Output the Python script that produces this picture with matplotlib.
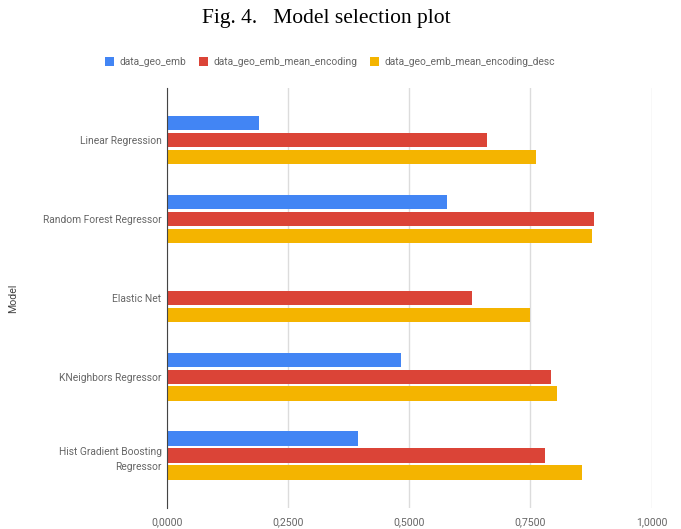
import numpy as np
from matplotlib import pyplot as plt

models = ['Linear Regression', 'Random Forest Regressor', 'Elastic Net',
          'KNeighbors Regressor', 'Hist Gradient Boosting\nRegressor']
geo_emb = [0.190, 0.577, 0.0, 0.483, 0.395]
mean_enc = [0.660, 0.880, 0.630, 0.792, 0.779]
mean_enc_desc = [0.761, 0.876, 0.750, 0.805, 0.856]
series = ['data_geo_emb', 'data_geo_emb_mean_encoding', 'data_geo_emb_mean_encoding_desc']
colors = ['#4285F4', '#DB4437', '#F4B400']
xticks = [0.0, 0.25, 0.5, 0.75, 1.0]

plt.rcParams['font.family'] = ['Roboto', 'DejaVu Sans']

fig = plt.figure(figsize=(6.81, 5.29), dpi=100)
ax = fig.add_axes([0.245, 0.040, 0.712, 0.794])

y = np.arange(len(models))
h = 0.184
step = 0.215
for i, (vals, name, c) in enumerate(zip([geo_emb, mean_enc, mean_enc_desc], series, colors)):
    ax.barh(y + (i - 1) * step, vals, height=h, color=c, label=name, linewidth=0, zorder=3)

ax.set_ylim(len(models) - 1 + 0.66, -0.66)
ax.set_xlim(0, 1.0)
ax.set_yticks(y)
ax.set_yticklabels(models, fontsize=7.4, color='#666666', linespacing=1.7)
ax.set_xticks(xticks)
ax.set_xticklabels(['{:.4f}'.format(v).replace('.', ',') for v in xticks], fontsize=7.6, color='#666666')
ax.tick_params(axis='y', length=0, pad=3.8)
ax.tick_params(axis='x', length=0, pad=7)
ax.grid(axis='x', color='#dcdcdc', linewidth=1, zorder=0)
for s in ['top', 'right', 'bottom']:
    ax.spines[s].set_visible(False)
ax.spines['left'].set_color('#444444')
ax.spines['left'].set_zorder(4)
ax.set_ylabel('Model', fontsize=7.6, color='#444444')
ax.yaxis.set_label_coords(-0.307, 0.5)

fig.legend(loc='center', bbox_to_anchor=(0.485, 0.882), ncol=3, frameon=False,
           fontsize=7.4, handlelength=0.85, handleheight=0.95, handletextpad=0.55,
           columnspacing=1.25, labelcolor='#666666')
fig.text(0.479, 0.9565, 'Fig. 4.   Model selection plot', ha='center', va='baseline',
         fontsize=15.5, family='Liberation Serif')

fig.savefig('out.png', dpi=100)
